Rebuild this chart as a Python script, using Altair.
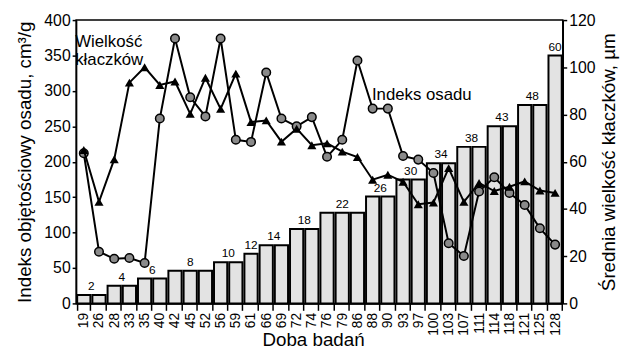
import altair as alt
import pandas as pd

days = ["19", "26", "28", "33", "35", "40", "42", "45", "52", "56", "59", "61", "66", "69", "72", "74",
        "76", "79", "86", "88", "90", "93", "97", "100", "103", "107", "111", "114", "118", "121", "125", "128"]
bar_vals = [12, 12, 25, 25, 35, 35, 46, 46, 46, 58, 58, 70, 82, 82, 105, 105,
            128, 128, 128, 151, 151, 175, 175, 198, 198, 221, 221, 250, 250, 280, 280, 350]
svi = [212, 73, 63, 64, 57, 261, 374, 291, 264, 374, 231, 228, 326, 261, 250, 263,
       207, 231, 343, 275, 275, 208, 203, 184, 85, 67, 158, 178, 156, 139, 106, 83]
floc = [65, 43, 61, 93.5, 100, 92.5, 94, 80.3, 95.6, 82.4, 97.3, 76.8, 77.5, 68.5, 74, 67,
        67.8, 64.3, 62, 52.4, 54.5, 51.5, 42, 42.7, 57.3, 43, 51, 47.6, 49.4, 51.7, 47.8, 46.8]

pair_at = ["19", "28", "35", "56", "66", "72", "88", "93", "100", "107", "114", "121"]
pair_text = ["2", "4", "6", "10", "14", "18", "26", "30", "34", "38", "43", "48"]
single_at = ["45", "61", "79", "128"]
single_text = ["8", "12", "22", "60"]

ann_day = ["19", "88"]
ann_y = [362, 287]
ann_text = ["Wielkość\nkłaczków", "Indeks osadu"]
ann_dx = [-2, 6]

FONT = "Liberation Sans"

df = pd.DataFrame({"day": days, "bar": bar_vals, "svi": svi, "floc": floc})
hmap = dict(zip(days, bar_vals))
pair_df = pd.DataFrame({"day": pair_at, "txt": pair_text, "h": [hmap[d] for d in pair_at]})
single_df = pd.DataFrame({"day": single_at, "txt": single_text, "h": [hmap[d] for d in single_at]})
ann_df = pd.DataFrame({"day": ann_day, "y": ann_y, "txt": ann_text, "dx": ann_dx})

xenc = alt.X("day:N", sort=days,
             scale=alt.Scale(paddingInner=0.13, paddingOuter=0.07),
             axis=alt.Axis(title="Doba badań", labelAngle=270, tickBand="extent",
                           tickSize=7, labelFontSize=14, labelPadding=2,
                           titleFontSize=19, titleY=43, titleBaseline="alphabetic", titleX=240))

left_scale = alt.Scale(domain=[0, 400], nice=False)
left_axis = alt.Axis(values=list(range(0, 401, 50)), title="Indeks objętościowy osadu, cm³/g",
                     tickSize=4, labelPadding=2, titlePadding=9, labelFontSize=16, titleFontSize=19)


def yl(field):
    return alt.Y(field, type="quantitative", scale=left_scale, axis=left_axis)


bars = alt.Chart(df).mark_bar(fill="#e3e3e3", stroke="black", strokeWidth=2).encode(x=xenc, y=yl("bar"))
pair_lab = alt.Chart(pair_df).mark_text(font=FONT, fontSize=12, dx=7.7, dy=-2, baseline="bottom", color="black").encode(
    x=xenc, y=yl("h"), text="txt:N")
single_lab = alt.Chart(single_df).mark_text(font=FONT, fontSize=12, dy=-2, baseline="bottom", color="black").encode(
    x=xenc, y=yl("h"), text="txt:N")
svi_line = alt.Chart(df).mark_line(color="black", strokeWidth=2).encode(x=xenc, y=yl("svi"))
svi_pts = alt.Chart(df).mark_point(shape="circle", filled=True, fill="#8a8a8a", stroke="black",
                                   strokeWidth=1.5, size=75, opacity=1).encode(x=xenc, y=yl("svi"))
ann = alt.Chart(ann_df).mark_text(font=FONT, fontSize=17, align="left", baseline="alphabetic", color="black",
                                  lineBreak="\n", lineHeight=18).encode(
    x=xenc, y=yl("y"), text="txt:N", xOffset=alt.XOffset("dx:Q", scale=None))

right_scale = alt.Scale(domain=[0, 120], nice=False)
right_axis = alt.Axis(orient="right", values=list(range(0, 121, 20)), title="Średnia wielkość kłaczków, µm",
                      titleAngle=270, tickSize=4, labelPadding=2, titlePadding=24, labelFontSize=16, titleFontSize=19)
yr = alt.Y("floc:Q", scale=right_scale, axis=right_axis)
tri_line = alt.Chart(df).mark_line(color="black", strokeWidth=2).encode(x=xenc, y=yr)
tri_pts = alt.Chart(df).mark_point(shape="triangle-up", filled=True, color="black", size=85, opacity=1).encode(
    x=xenc, y=yr)

left = alt.layer(bars, pair_lab, single_lab, svi_line, svi_pts, ann)
right = alt.layer(tri_line, tri_pts)

chart = alt.layer(left, right).resolve_scale(y="independent").properties(
    width=493, height=287,
    autosize=alt.AutoSizeParams(type="none"),
    padding={"left": 69, "top": 10, "right": 60, "bottom": 48},
).configure_view(stroke="black", strokeWidth=1.5).configure_axis(
    labelFont=FONT, titleFont=FONT, titleFontWeight="normal", labelColor="black", titleColor="black",
    domainColor="black", tickColor="black", domainWidth=1.5, tickWidth=1.5, grid=False
)

chart.save("out.html", embed_options={"renderer": "svg", "actions": False})
